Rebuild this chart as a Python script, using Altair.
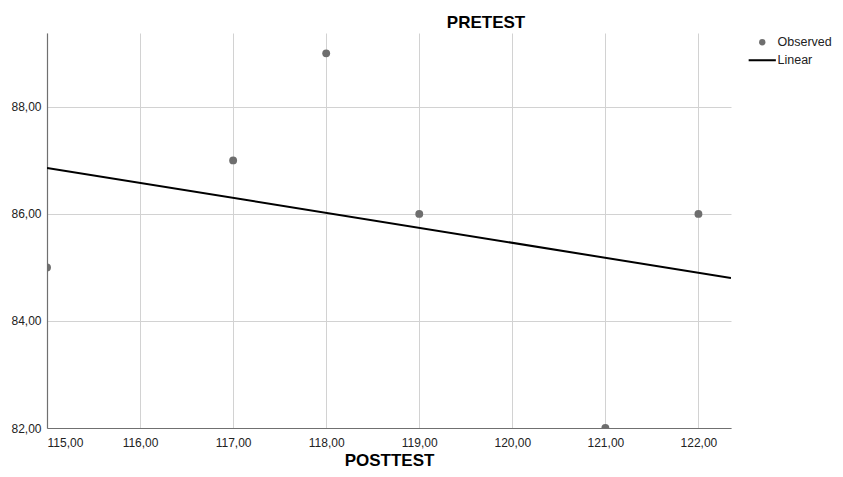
import altair as alt
import pandas as pd

# Data
posttest = [115, 117, 118, 119, 121, 122]
pretest = [85, 87, 89, 86, 82, 86]
series_names = ["Observed", "Linear"]
x_ticks = [115, 116, 117, 118, 119, 120, 121, 122]
y_ticks = [82, 84, 86, 88]
x_domain = [115, 122.35]
y_domain = [82, 89.38]

FONT = "Liberation Sans"
label_expr = "replace(format(datum.value, '.2f'), '.', ',')"

df = pd.DataFrame({"POSTTEST": posttest, "PRETEST": pretest, "series": "Observed"})

color_scale = alt.Scale(domain=series_names, range=["#6e6e6e", "#000000"])
shape_scale = alt.Scale(domain=series_names,
                        range=["circle", "M-4.3,-0.32H4.3V0.32H-4.3Z"])

legend = alt.Legend(title=None, orient="none", legendX=709, legendY=3,
                    padding=0, symbolSize=40, labelFont=FONT, labelFontSize=12.5,
                    labelColor="#222222", labelOffset=9, rowPadding=5,
                    symbolStrokeWidth=0, symbolOpacity=1, labelLimit=200)

x_enc = alt.X("POSTTEST:Q",
              scale=alt.Scale(domain=x_domain, nice=False, zero=False),
              axis=alt.Axis(values=x_ticks, labelExpr=label_expr, title="POSTTEST",
                            titlePadding=4, labelPadding=9))
y_enc = alt.Y("PRETEST:Q",
              scale=alt.Scale(domain=y_domain, nice=False, zero=False),
              axis=alt.Axis(values=y_ticks, labelExpr=label_expr, title=None,
                            labelPadding=6))

points = alt.Chart(df).mark_point(filled=True, size=62, opacity=1, clip=True).encode(
    x=x_enc,
    y=y_enc,
    color=alt.Color("series:N", scale=color_scale, legend=legend),
    shape=alt.Shape("series:N", scale=shape_scale, legend=legend),
)

line = alt.Chart(df).transform_regression(
    "POSTTEST", "PRETEST", extent=x_domain
).transform_calculate(series="'Linear'").mark_line(
    strokeWidth=2, clip=True
).encode(
    x=x_enc,
    y=y_enc,
    color=alt.Color("series:N", scale=color_scale, legend=legend),
)

chart = alt.layer(points, line).properties(
    width=684,
    height=395,
    autosize=alt.AutoSizeParams(type="none"),
    padding={"left": 39, "top": 25, "right": 104, "bottom": 40},
    title=alt.TitleParams("PRETEST", font=FONT, fontSize=17, fontWeight="bold",
                          color="#000000", anchor="middle", dx=97, dy=18, offset=6,
                          baseline="alphabetic"),
).configure_view(stroke=None).configure_axis(
    labelFont=FONT, labelFontSize=12, labelColor="#222222",
    titleFont=FONT, titleFontSize=17, titleFontWeight="bold", titleColor="#000000",
    grid=True, gridColor="#d2d2d2", gridWidth=1,
    domainColor="#707070", domainWidth=1.2,
    ticks=False, tickSize=0,
)

chart.save("out.html", embed_options={"renderer": "svg", "actions": False})
